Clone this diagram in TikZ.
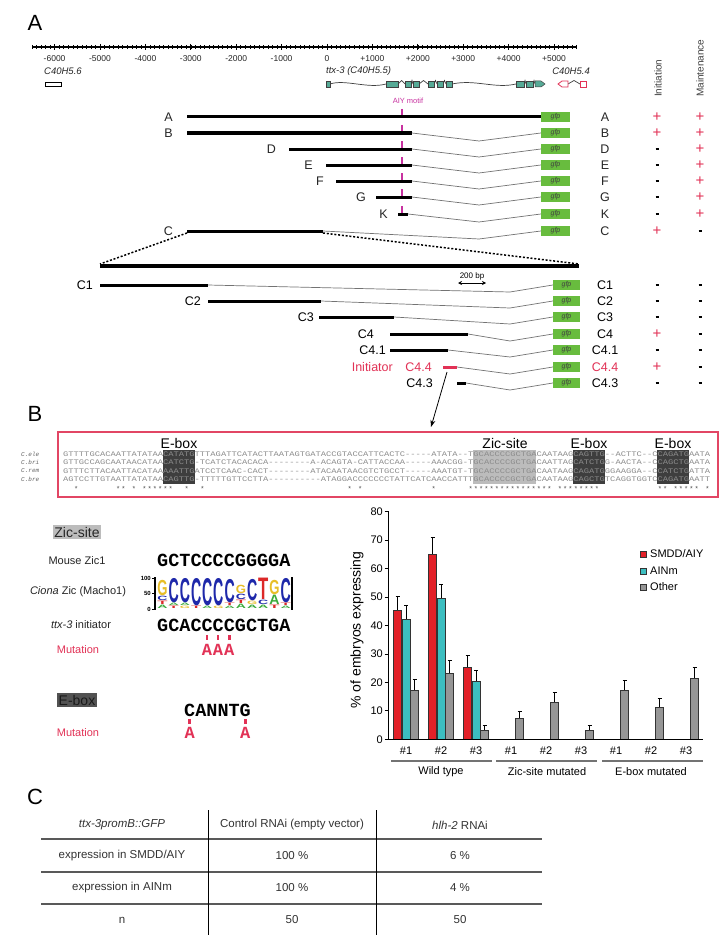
\documentclass[tikz,border=0pt]{standalone}
\usepackage{fontspec}
\setmainfont{Liberation Sans}
\newfontfamily\seqfont{Liberation Mono}[Ligatures=TeXOff]
\usepackage{graphicx}
\usetikzlibrary{arrows.meta}
\definecolor{plusred}{RGB}{226,50,86}
\definecolor{aiymag}{RGB}{200,50,160}
\definecolor{gfpgreen}{RGB}{104,188,62}
\definecolor{exonteal}{RGB}{86,170,150}
\definecolor{barred}{RGB}{226,32,40}
\definecolor{barteal}{RGB}{60,190,192}
\definecolor{bargrey}{RGB}{150,150,150}
\definecolor{boxred}{RGB}{226,70,100}
\definecolor{eboxgrey}{RGB}{62,62,62}
\definecolor{zicgrey}{RGB}{188,188,188}
\definecolor{seqgrey}{RGB}{140,140,140}
\definecolor{logoY}{RGB}{232,190,40}
\definecolor{logoB}{RGB}{30,40,170}
\definecolor{logoG}{RGB}{60,170,60}
\definecolor{logoR}{RGB}{220,40,40}
\newcommand\fsz[1]{\fontsize{#1}{#1}\selectfont}
\tikzset{
  plab/.style={font=\fsz{22}, inner sep=0},
  ticklab/.style={font=\fsz{8.5}, inner sep=0, text=black!85},
  genelab/.style={font=\fsz{9.5}\itshape, inner sep=0, text=black!85},
  rowlab/.style={font=\fsz{12.5}, inner sep=0, text=black!85},
  blackbar/.style={line width=3pt},
  thinconn/.style={draw=black!55, line width=0.7pt},
  gfpbox/.style={fill=gfpgreen, minimum width=29pt, minimum height=9.5pt, inner sep=0, font=\fsz{7}\itshape, text=black!75},
  gfpboxs/.style={gfpbox, minimum width=27pt},
  pluss/.style={font=\fsz{15}, text=plusred, inner sep=0},
  minuss/.style={line width=1.8pt},
  aiytick/.style={draw=aiymag, line width=1.6pt},
  zoomline/.style={line width=1.5pt, dash pattern=on 2pt off 1.8pt},
  exon/.style={fill=exonteal, draw=black!75, line width=0.5pt},
  intron/.style={draw=black!75, line width=0.7pt},
  hdr/.style={font=\fsz{14}, inner sep=0},
  seqrow/.style={anchor=west, inner sep=0, text=seqgrey},
  splab/.style={font=\seqfont\itshape\fsz{6}, text=black!60, anchor=west, inner sep=0},
  bigseq/.style={font=\seqfont\bfseries\fsz{18.5}, anchor=west, inner sep=0},
  redA/.style={font=\seqfont\bfseries\fsz{17}, text=plusred, inner sep=0},
  leftlab/.style={font=\fsz{11}, inner sep=0, text=black!85},
  chartlab/.style={font=\fsz{11}, inner sep=0},
  tablab/.style={font=\fsz{11.5}, inner sep=0, text=black!80},
  logolet/.style={inner sep=0, outer sep=0, anchor=south},
  errbar/.style={line width=0.8pt},
}
\begin{document}
\begin{tikzpicture}[x=1pt,y=-1pt]
\useasboundingbox (0,0) rectangle (726,947);
\fill[white] (0,0) rectangle (726,947);

% ================= Panel A =================
\node[plab] (pA) at (35,23) {A};

% axis
\draw[line width=1.1pt] (32,47) -- (577,47);
\foreach \i in {-65,...,55} \draw[line width=0.5pt] ({327+4.54*\i},45.3) -- ({327+4.54*\i},48.7);
\foreach \i in {-6,...,5} \draw[line width=0.8pt] ({327+45.4*\i},44) -- ({327+45.4*\i},50);
\foreach \i/\t in {-6/-6000,-5/-5000,-4/-4000,-3/-3000,-2/-2000,-1/-1000,0/0,1/+1000,2/+2000,3/+3000,4/+4000,5/+5000}
  \node[ticklab] (tk\i) at ({327+45.4*\i},59) {\t};

% gene labels
\node[genelab, anchor=west] (g56) at (44,71) {C40H5.6};
\node[genelab, anchor=west] (g55) at (326,71) {ttx-3 (C40H5.5)};
\node[genelab, anchor=east] (g54) at (590,71) {C40H5.4};
\node[font=\fsz{10}, text=black!75, rotate=90, anchor=west, inner sep=0] (hInit) at (658,97) {Initiation};
\node[font=\fsz{10}, text=black!75, rotate=90, anchor=west, inner sep=0] (hMaint) at (700,97) {Maintenance};

% C40H5.6
\draw[line width=0.8pt, fill=white] (45,82) rectangle (61,86);
% ttx-3 gene model
\draw[intron] (330,84) .. controls (345,79) and (368,89) .. (386,84);
\draw[intron] (452,84) .. controls (475,79) and (495,89) .. (516,84);
\foreach \a/\b in {398/405,411/413,419/428,434/437,443/446,524/526,533/535}
  \draw[intron] (\a,84) -- ({(\a+\b)/2},80.5) -- (\b,84);
\foreach \a/\b in {326/330,386/398,405/411,413/419,428/434,437/443,446/452,516/524,526/533}
  \draw[exon] (\a,81) rectangle (\b,87);
\draw[exon] (535,81) -- (541,81) -- (545,84) -- (541,87) -- (535,87) -- cycle;
% C40H5.4
\draw[intron] (568,84) -- (574,80.5) -- (580,84);
\draw[draw=plusred, fill=white, line width=0.8pt] (568,81) -- (562,81) -- (558,84) -- (562,87) -- (568,87) -- cycle;
\draw[draw=plusred, fill=white, line width=0.8pt] (580,81) rectangle (586,87);

% AIY motif
\node[font=\fsz{7.5}, text=aiymag, inner sep=0] (aiy) at (408,101) {AIY motif};
\foreach \yy in {117,133,149,165,181,197,214}
  \draw[aiytick] (402,\yy-8) -- (402,\yy-1.5);

% upper constructs
\foreach \nm/\yy/\lx/\xs/\xe/\ini/\mnt in {A/117/173/187/541/1/1,B/133/173/187/412/1/1,D/149/276/289/412/0/1,E/165/313/326/412/0/1,F/181/324/336/412/0/1,G/197/366/376/412/0/1,K/214/388/398/408/0/1,C/231/173/187/323/1/0}{
  \draw[blackbar] (\xs,\yy) -- (\xe,\yy);
  \node[rowlab, anchor=east] (l\nm) at (\lx,\yy) {\nm};
  \node[gfpbox] (g\nm) at (555.5,\yy) {gfp};
  \ifnum\xe<541 \draw[thinconn] (\xe,\yy) -- (479,\yy+8) -- (g\nm.west); \fi
  \node[rowlab] (r\nm) at (605,\yy) {\nm};
  \ifnum\ini=1 \node[pluss] (i\nm) at (657,\yy) {+}; \else \draw[minuss] (655.5,\yy) -- (658.5,\yy); \fi
  \ifnum\mnt=1 \node[pluss] (m\nm) at (700,\yy) {+}; \else \draw[minuss] (698.5,\yy) -- (701.5,\yy); \fi
}

% zoom lines
\coordinate (zl1) at (187,233);
\coordinate (zl2) at (100,264);
\coordinate (zr1) at (323,233);
\coordinate (zr2) at (579,264);
\draw[zoomline] (zl1) -- (zl2);
\draw[zoomline] (zr1) -- (zr2);
\draw[line width=3.5pt] (100,266) -- (579,266);

% 200 bp scale
\node[font=\fsz{8}, inner sep=0] (bp) at (472,276) {200 bp};
\coordinate (bpL) at (458,283);
\coordinate (bpR) at (486,283);
\draw[{Stealth[length=4pt,width=4pt]}-{Stealth[length=4pt,width=4pt]}, line width=1pt] (bpL) -- (bpR);

% lower constructs
\foreach \id/\tx/\yy/\lx/\xs/\xe/\ini/\cl in {c1/C1/285/93/100/208/0/black,c2/C2/301/201/208/321/0/black,c3/C3/317/314/319/394/0/black,c4/C4/334/374/390/468/1/black,c41/C4.1/350/386/390/448/0/black,c44/C4.4/367/432/443/457/1/plusred,c43/C4.3/383/433/457/466/0/black}{
  \draw[blackbar, draw=\cl] (\xs,\yy) -- (\xe,\yy);
  \node[rowlab, anchor=east, text=\cl] (l\id) at (\lx,\yy) {\tx};
  \node[gfpboxs] (g\id) at (566.5,\yy) {gfp};
  \draw[thinconn] (\xe,\yy) -- (510,\yy+7) -- (g\id.west);
  \node[rowlab, text=\cl] (r\id) at (605,\yy) {\tx};
  \ifnum\ini=1 \node[pluss] (i\id) at (657,\yy) {+}; \else \draw[minuss] (655.5,\yy) -- (658.5,\yy); \fi
  \draw[minuss] (698.5,\yy) -- (701.5,\yy);
}
\node[rowlab, text=plusred, anchor=east] (initr) at (393,367) {Initiator};
\coordinate (arrS) at (447,372);
\coordinate (arrE) at (431,427);
\draw[-{Stealth[length=7pt,width=5pt]}, line width=0.8pt] (arrS) -- (arrE);

% ================= Panel B =================
\node[plab] (pB) at (35,414) {B};
\draw[draw=boxred, line width=1.2pt] (58,432) rectangle (718,497);
\fill[zicgrey] (473.3,449.5) rectangle (536.4,484);
\fill[eboxgrey] (163,449.5) rectangle (194.6,484);
\fill[eboxgrey] (573.2,449.5) rectangle (604.8,484);
\fill[eboxgrey] (657.4,449.5) rectangle (689,484);
\node[hdr] (hE1) at (179,443) {E-box};
\node[hdr] (hZ) at (505,443) {Zic-site};
\node[hdr] (hE2) at (589,443) {E-box};
\node[hdr] (hE3) at (673,443) {E-box};
\node[splab] (sp1) at (21,454) {C.ele};
\node[splab] (sp2) at (21,462.5) {C.bri};
\node[splab] (sp3) at (21,471) {C.rem};
\node[splab] (sp4) at (21,479.5) {C.bre};
\node[seqrow] (sq1) at (63,454) {\scalebox{1.2524}[1]{\seqfont\fsz{7}GTTTTGCACAATTATATAACATATGTTTAGATTCATACTTAATAGTGATACCGTACCATTCACTC-----ATATA--TGCACCCCGCTGACAATAAGCAGTTG--ACTTC--CCAGATGAATA}};
\node[seqrow] (sq2) at (63,462.5) {\scalebox{1.2524}[1]{\seqfont\fsz{7}GTTGCCAGCAATAACATAACATCTG-TCATCTACACACA--------A-ACAGTA-CATTACCAA-----AAACGG-TGCACCCCGCTGACAATTAGCATCTGG-AACTA--CCAGCTGAATA}};
\node[seqrow] (sq3) at (63,471) {\scalebox{1.2524}[1]{\seqfont\fsz{7}GTTTCTTACAATTACATAAAAATTGATCCTCAAC-CACT--------ATACAATAACGTCTGCCT-----AAATGT-TGCACCCCGCTGACAATAAGCAGATGGGAAGGA--CCATCTGATTA}};
\node[seqrow] (sq4) at (63,479.5) {\scalebox{1.2524}[1]{\seqfont\fsz{7}AGTCCTTGTAATTATATAACAGTTG-TTTTTGTTCCTTA----------ATAGGACCCCCCCTATTCATCAACCATTTGCACCCCGCTGACAATAAGCAGCTGTCAGGTGGTCCAGATGAATT}};
\foreach \c in {2,10,11,13,15,16,17,18,19,20,23,26,54,56,70,77,78,79,80,81,82,83,84,85,86,87,88,89,90,91,92,94,95,96,97,98,99,100,101,113,114,116,117,118,119,120,122}
  \node[font=\seqfont\fsz{7}, text=black!70, inner sep=0] (st\c) at ({63+5.26*\c+2.63},489) {*};

% Zic-site block
\node[font=\fsz{14}, fill=zicgrey, inner sep=1.5pt, text=black!85] (zlab) at (77,532) {Zic-site};
\node[leftlab] (mz) at (77,561) {Mouse Zic1};
\node[bigseq] (mzs) at (157,560) {GCTCCCCGGGGA};
\node[leftlab] (cz) at (78,592) {\textit{Ciona} Zic (Macho1)};
% logo
\draw[line width=1.5pt] (155,577) -- (155,610);
\draw[line width=1.5pt] (292,577) -- (292,610);
\foreach \yy/\t in {578/100,593.5/50,609/0}{
  \draw[line width=0.8pt] (152,\yy) -- (155,\yy);
  \node[font=\fsz{6}\bfseries, anchor=east, inner sep=0] (lt\t) at (151,\yy) {\t};
}
\foreach \n/\col/\yb/\h/\clr/\L in {0a/0/609/4/logoG/A,0b/0/605/4/logoR/T,0c/0/601/5/logoB/C,0d/0/596/16/logoY/G,1a/1/609/3/logoR/T,1b/1/606/3/logoG/A,1c/1/603/25/logoB/C,2a/2/609/3/logoY/G,2b/2/606/3/logoG/A,2c/2/603/25/logoB/C,3a/3/609/3/logoR/T,3b/3/606/28/logoB/C,4a/4/609/3/logoG/A,4b/4/606/28/logoB/C,5a/5/609/3/logoY/G,5b/5/606/28/logoB/C,6a/6/609/3/logoG/A,6b/6/606/3/logoR/T,6c/6/603/24/logoB/C,7a/7/609/5/logoG/A,7b/7/604/4/logoR/T,7c/7/600/6/logoB/C,7d/7/594/9/logoY/G,8a/8/609/4/logoG/A,8b/8/605/4/logoY/G,8c/8/601/22/logoB/C,9a/9/609/4/logoG/A,9b/9/605/5/logoB/C,9c/9/600/22/logoR/T,10a/10/609/4/logoR/T,10b/10/605/10/logoG/A,10c/10/595/15/logoY/G,11a/11/609/3/logoG/A,11b/11/606/3/logoR/T,11c/11/603/25/logoB/C}{
  \pgfmathsetmacro\hh{\h-0.6}
  \node[logolet, text=\clr] (lg\n) at ({162.5+11.2*\col},\yb-0.3) {\resizebox*{10.2pt}{\hh pt}{\bfseries \L}};
}
\node[leftlab] (ti) at (81,625) {\textit{ttx-3} initiator};
\node[bigseq] (tis) at (157,625) {GCACCCCGCTGA};
\node[leftlab, text=plusred] (mut1) at (78,650) {Mutation};
\foreach \k in {4,5,6}{
  \fill[plusred] ({157+11.1*(\k+0.5)-1.4},635) rectangle ({157+11.1*(\k+0.5)+1.4},640);
  \node[redA] (ma\k) at ({157+11.1*(\k+0.5)},650) {A};
}
% E-box block
\node[font=\fsz{14}, fill=black!68, inner sep=1.5pt, text=black!90] (elab) at (77,700) {E-box};
\node[bigseq] (cann) at (184,710) {CANNTG};
\node[leftlab, text=plusred] (mut2) at (78,733) {Mutation};
\foreach \xx/\nn in {189.6/1,245.1/2}{
  \fill[plusred] (\xx-1.4,719) rectangle (\xx+1.4,724);
  \node[redA] (mb\nn) at (\xx,733) {A};
}

% bar chart
\draw[line width=1pt] (388,511) -- (388,739.3) -- (703,739.3);
\foreach \v in {0,10,...,80}{
  \draw[line width=0.8pt] (384.5,{739.3-2.845*\v}) -- (388,{739.3-2.845*\v});
  \node[chartlab, anchor=east] (yt\v) at (383,{739.3-2.845*\v}) {\v};
}
\node[font=\fsz{14}, rotate=90, inner sep=0] (ylab) at (357,630) {\% of embryos expressing};
\foreach \cx/\v/\e/\col in {397.5/45.4/4.9/barred,406/42.2/5/barteal,414.5/17.2/3.8/bargrey,432.5/65/6/barred,441/49.5/5/barteal,449.5/23.1/4.5/bargrey,467.5/25.2/4.4/barred,476/20.4/3.9/barteal,484.5/3.2/1.7/bargrey,519.5/7.4/2.3/bargrey,554.5/13.1/3.5/bargrey,589.5/3.2/1.7/bargrey,624.5/17.3/3.5/bargrey,659.5/11.3/3.1/bargrey,694.5/21.5/3.8/bargrey}{
  \pgfmathsetmacro\yt{739.3-2.845*\v}
  \pgfmathsetmacro\ye{\yt-2.845*\e}
  \draw[errbar] (\cx,\yt) -- (\cx,\ye);
  \draw[errbar] (\cx-2,\ye) -- (\cx+2,\ye);
  \draw[fill=\col, draw=black!80, line width=0.5pt] (\cx-4.2,739.3) rectangle (\cx+4.2,\yt);
}
\draw[line width=1pt] (388,739.3) -- (703,739.3);
\foreach \cx/\t/\n in {406/\#1/a1,441/\#2/a2,476/\#3/a3,511/\#1/b1,546/\#2/b2,581/\#3/b3,616/\#1/c1,651/\#2/c2,686/\#3/c3}
  \node[chartlab] (xl\n) at (\cx,751) {\t};
\draw[line width=1.3pt, black!55] (391,761) -- (492,761);
\draw[line width=1.3pt, black!55] (496,761) -- (597,761);
\draw[line width=1.3pt, black!55] (602,761) -- (703,761);
\node[chartlab] (gWT) at (441,772) {Wild type};
\node[chartlab] (gZic) at (547,772) {Zic-site mutated};
\node[chartlab] (gEb) at (651,772) {E-box mutated};
% legend
\foreach \yy/\col/\t/\n in {554/barred/SMDD\slash AIY/l1,571/barteal/AINm/l2,587/bargrey/Other/l3}{
  \draw[fill=\col, draw=black!80, line width=0.6pt] (640.5,\yy-2.8) rectangle (646,\yy+2.8);
  \node[chartlab, anchor=west] (lg\n) at (650,\yy) {\t};
}

% ================= Panel C =================
\node[plab] (pC) at (35,797) {C};
\foreach \yy in {839,872,904}
  \draw[line width=1.8pt, black!65] (41,\yy) -- (542,\yy);
\draw[line width=0.8pt] (208,810) -- (208,935);
\draw[line width=0.8pt] (376,810) -- (376,935);
\node[tablab] (t11) at (122,825) {\textit{ttx-3promB::GFP}};
\node[tablab] (t12) at (292,825) {Control RNAi (empty vector)};
\node[tablab] (t13) at (460,825) {\textit{hlh-2} RNAi};
\node[tablab] (t21) at (122,856) {expression in SMDD/AIY};
\node[tablab] (t22) at (292,856) {100 \%};
\node[tablab] (t23) at (460,856) {6 \%};
\node[tablab] (t31) at (122,888) {expression in AINm};
\node[tablab] (t32) at (292,888) {100 \%};
\node[tablab] (t33) at (460,888) {4 \%};
\node[tablab] (t41) at (122,920) {n};
\node[tablab] (t42) at (292,920) {50};
\node[tablab] (t43) at (460,920) {50};
\end{tikzpicture}
\end{document}
